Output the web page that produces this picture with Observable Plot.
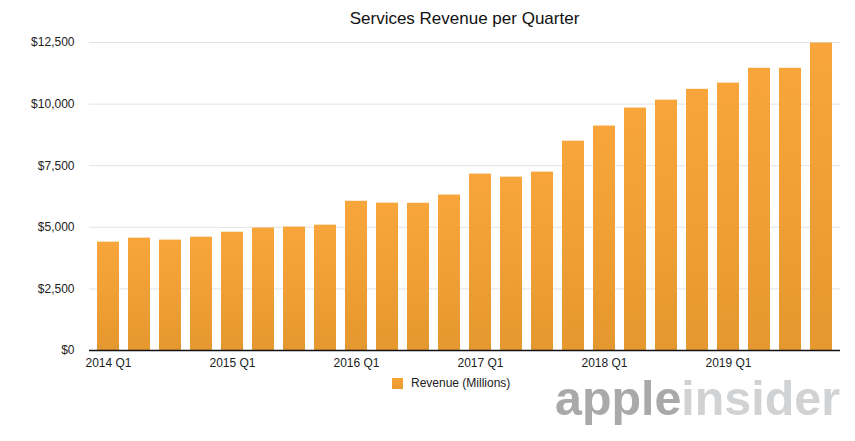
<!DOCTYPE html>
<html><head><meta charset="utf-8">
<script src="https://cdn.jsdelivr.net/npm/d3@7"></script>
<script src="https://cdn.jsdelivr.net/npm/@observablehq/plot@0.6"></script>
<style>
body{margin:0;background:#fff;font-family:"Liberation Sans",Arial,Helvetica,sans-serif;}
#wrap{position:relative;width:855px;height:441px;overflow:hidden;}
#title{height:31px;padding-top:3px;line-height:32px;font-size:17px;color:#111;text-align:center;padding-left:89px;padding-right:15px;overflow:visible;}
#legend{position:absolute;left:392px;top:376px;height:14px;font-size:12px;color:#222;display:flex;align-items:center;}
#legend .sw{width:11px;height:11px;margin-right:8px;background:linear-gradient(#f7a53b,#e8992f);}
#wm{position:absolute;left:0;top:0;pointer-events:none;}
</style></head>
<body>
<div id="wrap">
  <div id="title">Services Revenue per Quarter</div>
  <div id="chart"></div>
  <div id="legend"><div class="sw"></div><span>Revenue (Millions)</span></div>
  <svg id="wm" width="855" height="441"><text x="555" y="415" textLength="285" lengthAdjust="spacingAndGlyphs" font-family="'Liberation Sans Narrow','Liberation Sans',Arial,sans-serif" font-weight="bold" font-size="49"><tspan fill="#a9a9a9">apple</tspan><tspan fill="#d0d2d4">insider</tspan></text></svg>
</div>
<script>
const quarters = ["2014 Q1","2014 Q2","2014 Q3","2014 Q4","2015 Q1","2015 Q2","2015 Q3","2015 Q4","2016 Q1","2016 Q2","2016 Q3","2016 Q4","2017 Q1","2017 Q2","2017 Q3","2017 Q4","2018 Q1","2018 Q2","2018 Q3","2018 Q4","2019 Q1","2019 Q2","2019 Q3","2019 Q4"];
const revenue = [4397, 4560, 4480, 4600, 4800, 4970, 5010, 5086, 6056, 5980, 5976, 6310, 7160, 7035, 7240, 8495, 9110, 9840, 10160, 10600, 10850, 11455, 11455, 12480];
const xTickLabels = ["2014 Q1","2015 Q1","2016 Q1","2017 Q1","2018 Q1","2019 Q1"];
const yTicks = [0, 2500, 5000, 7500, 10000, 12500];

const data = quarters.map((q, i) => ({q, v: revenue[i]}));

const gradient = () => {
  const defs = d3.create("svg:defs");
  const g = defs.append("linearGradient").attr("id", "barGrad").attr("x1", 0).attr("y1", 0).attr("x2", 0).attr("y2", 1);
  g.append("stop").attr("offset", "0%").attr("stop-color", "#f8a63b");
  g.append("stop").attr("offset", "100%").attr("stop-color", "#e5982f");
  return defs.node();
};

const chart = Plot.plot({
  width: 855,
  height: 342,
  marginTop: 8,
  marginBottom: 26,
  marginLeft: 89,
  marginRight: 15,
  style: {fontFamily: "'Liberation Sans', Arial, Helvetica, sans-serif", fontSize: "12px", color: "#222", background: "transparent"},
  x: {domain: quarters, paddingInner: 0.3, paddingOuter: 0.15, ticks: xTickLabels, tickSize: 0, tickPadding: 8, label: null},
  y: {domain: [0, 12500], ticks: yTicks, tickFormat: d => "$" + d3.format(",")(d), tickSize: 0, tickPadding: 15, label: null},
  marks: [
    gradient,
    Plot.ruleY(yTicks.slice(1), {stroke: "#e3e3e3", strokeWidth: 1}),
    Plot.barY(data, {x: "q", y: "v", fill: "url(#barGrad)"}),
    Plot.ruleY([0], {stroke: "#111", strokeWidth: 1.3})
  ]
});
document.getElementById("chart").appendChild(chart);
</script>
</body></html>
